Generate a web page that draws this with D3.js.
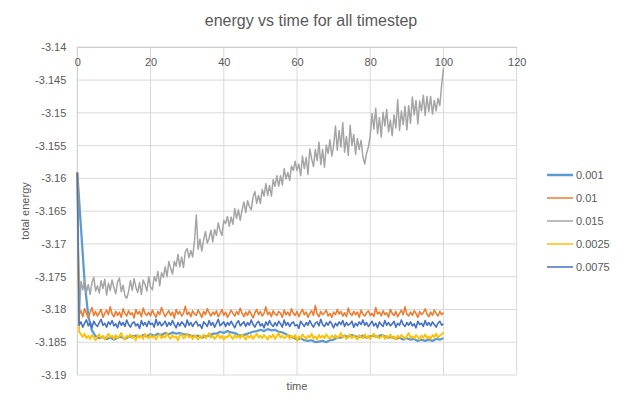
<!DOCTYPE html>
<html lang="en">
<head>
<meta charset="UTF-8">
<title>energy vs time for all timestep</title>
<style>
  body { margin: 0; background: #fff; }
  text { font-family: "Liberation Sans", Arial, sans-serif; fill: #595959; }
</style>
</head>
<body>
<script src="https://d3js.org/d3.v7.min.js"></script>
<script>
// series labels (timestep) and colours, in Excel's drawing order
const seriesNames = ["0.001", "0.01", "0.015", "0.0025", "0.0075"];
const seriesColors = ["#5B9BD5", "#ED7D31", "#A5A5A5", "#FFC000", "#4472C4"];

// sample times: 0.001 series read every 1, others every 0.5
const timeCoarse = d3.range(0, 101, 1);
const timeFine = d3.range(0, 100.5, 0.5);

const xTicks = [0, 20, 40, 60, 80, 100, 120];
const yTicks = [-3.14, -3.145, -3.15, -3.155, -3.16, -3.165, -3.17, -3.175, -3.18, -3.185, -3.19];
const yTickLabels = ["-3.14", "-3.145", "-3.15", "-3.155", "-3.16", "-3.165", "-3.17", "-3.175", "-3.18", "-3.185", "-3.19"];

const energy001 = [
  -3.1591, -3.1675, -3.1758, -3.1810, -3.1832,
  -3.1841, -3.1844, -3.1842, -3.1845, -3.1843, -3.1846, -3.1843, -3.1842, -3.1845, -3.1842, -3.1841,
  -3.1840, -3.1842, -3.1839, -3.1841, -3.1838, -3.1840, -3.1837, -3.1839, -3.1836, -3.1838, -3.1835, -3.1837, -3.1836, -3.1838, -3.1838,
  -3.1840, -3.1841, -3.1840, -3.1843, -3.1841, -3.1840, -3.1837, -3.1837, -3.1834, -3.1836, -3.1833, -3.1835, -3.1836, -3.1839, -3.1840,
  -3.1838, -3.1836, -3.1834, -3.1833, -3.1831, -3.1833, -3.1830, -3.1832, -3.1831, -3.1834, -3.1835, -3.1838, -3.1841,
  -3.1843, -3.1846, -3.1844, -3.1847, -3.1848, -3.1847, -3.1850, -3.1849, -3.1848, -3.1850, -3.1847, -3.1846, -3.1843, -3.1843,
  -3.1840, -3.1842, -3.1839, -3.1841, -3.1842, -3.1840, -3.1843, -3.1841, -3.1840, -3.1842, -3.1839, -3.1841, -3.1843, -3.1842, -3.1845, -3.1843, -3.1846, -3.1844,
  -3.1846, -3.1845, -3.1848, -3.1846, -3.1848, -3.1846, -3.1848, -3.1845, -3.1846, -3.1844
];

const energy01 = [
  -3.1591,
  -3.1808, -3.1802, -3.1811, -3.1799, -3.1806, -3.1813, -3.1804, -3.1797, -3.1809, -3.1803,
  -3.1810, -3.1805, -3.1800, -3.1812, -3.1806, -3.1801, -3.1808, -3.1796, -3.1807, -3.1811,
  -3.1803, -3.1809, -3.1804, -3.1812, -3.1799, -3.1806, -3.1810, -3.1802, -3.1808, -3.1805,
  -3.1813, -3.1800, -3.1807, -3.1803, -3.1811, -3.1798, -3.1806, -3.1809, -3.1804, -3.1810,
  -3.1801, -3.1807, -3.1812, -3.1803, -3.1808, -3.1797, -3.1805, -3.1811, -3.1806, -3.1802,
  -3.1809, -3.1804, -3.1813, -3.1800, -3.1807, -3.1803, -3.1810, -3.1806, -3.1795, -3.1808,
  -3.1804, -3.1811, -3.1802, -3.1807, -3.1809, -3.1801, -3.1806, -3.1812, -3.1803, -3.1808,
  -3.1799, -3.1805, -3.1810, -3.1804, -3.1808, -3.1802, -3.1811, -3.1806, -3.1800, -3.1809,
  -3.1804, -3.1812, -3.1807, -3.1801, -3.1806, -3.1810, -3.1803, -3.1808, -3.1798, -3.1806,
  -3.1811, -3.1804, -3.1809, -3.1802, -3.1807, -3.1813, -3.1805, -3.1800, -3.1808, -3.1803,
  -3.1810, -3.1806, -3.1796, -3.1808, -3.1804, -3.1811, -3.1802, -3.1807, -3.1809, -3.1803,
  -3.1806, -3.1812, -3.1801, -3.1808, -3.1804, -3.1810, -3.1799, -3.1806, -3.1809, -3.1803,
  -3.1811, -3.1805, -3.1800, -3.1808, -3.1804, -3.1812, -3.1806, -3.1802, -3.1809, -3.1794,
  -3.1807, -3.1811, -3.1803, -3.1808, -3.1805, -3.1801, -3.1810, -3.1806, -3.1812, -3.1804,
  -3.1808, -3.1800, -3.1807, -3.1803, -3.1810, -3.1805, -3.1811, -3.1798, -3.1806, -3.1809,
  -3.1803, -3.1808, -3.1804, -3.1812, -3.1801, -3.1807, -3.1810, -3.1805, -3.1802, -3.1809,
  -3.1806, -3.1811, -3.1797, -3.1807, -3.1804, -3.1810, -3.1802, -3.1808, -3.1805, -3.1812,
  -3.1800, -3.1806, -3.1809, -3.1803, -3.1811, -3.1806, -3.1801, -3.1808, -3.1796, -3.1807,
  -3.1810, -3.1804, -3.1809, -3.1802, -3.1806, -3.1812, -3.1803, -3.1808, -3.1805, -3.1799,
  -3.1807, -3.1811, -3.1804, -3.1809, -3.1801, -3.1806, -3.1810, -3.1803, -3.1808, -3.1805
];

const energy015 = [
  -3.1595, -3.1818,
  -3.1757, -3.1770, -3.1753, -3.1774, -3.1762, -3.1777, -3.1759, -3.1751, -3.1772, -3.1764,
  -3.1775, -3.1756, -3.1768, -3.1754, -3.1778, -3.1760, -3.1771, -3.1755, -3.1767, -3.1776,
  -3.1758, -3.1752, -3.1773, -3.1763, -3.1779, -3.1783, -3.1773, -3.1756, -3.1771, -3.1753,
  -3.1766, -3.1774, -3.1759, -3.1777, -3.1755, -3.1762, -3.1772, -3.1750, -3.1766, -3.1770,
  -3.1750, -3.1757, -3.1742, -3.1764, -3.1744, -3.1751, -3.1735, -3.1750, -3.1727, -3.1737,
  -3.1746, -3.1727, -3.1734, -3.1716, -3.1735, -3.1720, -3.1736, -3.1712, -3.1707, -3.1721,
  -3.1710, -3.1720, -3.1696, -3.1656, -3.1708, -3.1693, -3.1711, -3.1694, -3.1681, -3.1699,
  -3.1691, -3.1679, -3.1697, -3.1678, -3.1687, -3.1668, -3.1680, -3.1687, -3.1664, -3.1669,
  -3.1658, -3.1673, -3.1659, -3.1670, -3.1646, -3.1661, -3.1648, -3.1664, -3.1648, -3.1636,
  -3.1652, -3.1634, -3.1643, -3.1648, -3.1629, -3.1620, -3.1638, -3.1626, -3.1638, -3.1617,
  -3.1627, -3.1608, -3.1626, -3.1611, -3.1627, -3.1602, -3.1612, -3.1596, -3.1612, -3.1596,
  -3.1610, -3.1585, -3.1601, -3.1591, -3.1603, -3.1581, -3.1588, -3.1574, -3.1588, -3.1578,
  -3.1596, -3.1566, -3.1585, -3.1568, -3.1594, -3.1555, -3.1570, -3.1582, -3.1556, -3.1573,
  -3.1545, -3.1579, -3.1556, -3.1583, -3.1549, -3.1562, -3.1541, -3.1566, -3.1550, -3.1520,
  -3.1557, -3.1527, -3.1552, -3.1515, -3.1560, -3.1536, -3.1565, -3.1519, -3.1550, -3.1533,
  -3.1563, -3.1539, -3.1556, -3.1542, -3.1567, -3.1578, -3.1562, -3.1552, -3.1535, -3.1501,
  -3.1525, -3.1493, -3.1532, -3.1507, -3.1537, -3.1499, -3.1520, -3.1495, -3.1529, -3.1511,
  -3.1535, -3.1503, -3.1523, -3.1480, -3.1527, -3.1497, -3.1518, -3.1490, -3.1526, -3.1489,
  -3.1516, -3.1476, -3.1503, -3.1481, -3.1517, -3.1482, -3.1497, -3.1473, -3.1504, -3.1475,
  -3.1498, -3.1475, -3.1502, -3.1481, -3.1497, -3.1478, -3.1489, -3.1458, -3.1432
];

const energy0025 = [
  -3.1591,
  -3.1834, -3.1838, -3.1842, -3.1837, -3.1844, -3.1840, -3.1845, -3.1839, -3.1843, -3.1847,
  -3.1841, -3.1838, -3.1844, -3.1840, -3.1846, -3.1842, -3.1837, -3.1843, -3.1840, -3.1845,
  -3.1839, -3.1844, -3.1841, -3.1836, -3.1843, -3.1846, -3.1840, -3.1842, -3.1838, -3.1844,
  -3.1841, -3.1847, -3.1839, -3.1843, -3.1840, -3.1845, -3.1837, -3.1842, -3.1844, -3.1839,
  -3.1843, -3.1840, -3.1846, -3.1841, -3.1838, -3.1844, -3.1840, -3.1843, -3.1836, -3.1842,
  -3.1845, -3.1839, -3.1843, -3.1841, -3.1847, -3.1840, -3.1838, -3.1844, -3.1842, -3.1837,
  -3.1843, -3.1840, -3.1845, -3.1839, -3.1842, -3.1846, -3.1840, -3.1843, -3.1838, -3.1844,
  -3.1841, -3.1836, -3.1843, -3.1840, -3.1845, -3.1842, -3.1838, -3.1844, -3.1840, -3.1846,
  -3.1841, -3.1843, -3.1837, -3.1842, -3.1845, -3.1839, -3.1843, -3.1840, -3.1844, -3.1838,
  -3.1842, -3.1846, -3.1840, -3.1843, -3.1839, -3.1845, -3.1841, -3.1837, -3.1843, -3.1840,
  -3.1844, -3.1839, -3.1842, -3.1846, -3.1840, -3.1843, -3.1838, -3.1845, -3.1841, -3.1836,
  -3.1843, -3.1840, -3.1844, -3.1842, -3.1838, -3.1845, -3.1840, -3.1843, -3.1839, -3.1848,
  -3.1841, -3.1844, -3.1838, -3.1842, -3.1845, -3.1840, -3.1843, -3.1837, -3.1844, -3.1841,
  -3.1846, -3.1839, -3.1843, -3.1840, -3.1844, -3.1838, -3.1842, -3.1845, -3.1840, -3.1843,
  -3.1839, -3.1844, -3.1841, -3.1836, -3.1843, -3.1840, -3.1845, -3.1842, -3.1838, -3.1844,
  -3.1840, -3.1843, -3.1846, -3.1839, -3.1842, -3.1844, -3.1838, -3.1843, -3.1840, -3.1845,
  -3.1841, -3.1837, -3.1843, -3.1840, -3.1844, -3.1842, -3.1839, -3.1845, -3.1840, -3.1843,
  -3.1838, -3.1844, -3.1841, -3.1846, -3.1840, -3.1843, -3.1839, -3.1842, -3.1845, -3.1840,
  -3.1836, -3.1843, -3.1841, -3.1844, -3.1839, -3.1842, -3.1846, -3.1840, -3.1843, -3.1838,
  -3.1844, -3.1841, -3.1845, -3.1839, -3.1842, -3.1837, -3.1843, -3.1840, -3.1838, -3.1835
];

const energy0075 = [
  -3.1591,
  -3.1824, -3.1819, -3.1827, -3.1821, -3.1816, -3.1825, -3.1820, -3.1828, -3.1818, -3.1823,
  -3.1826, -3.1820, -3.1815, -3.1824, -3.1821, -3.1827, -3.1819, -3.1823, -3.1817, -3.1825,
  -3.1822, -3.1828, -3.1818, -3.1824, -3.1820, -3.1826, -3.1816, -3.1823, -3.1827, -3.1821,
  -3.1819, -3.1825, -3.1822, -3.1829, -3.1817, -3.1824, -3.1820, -3.1826, -3.1818, -3.1823,
  -3.1821, -3.1827, -3.1815, -3.1824, -3.1819, -3.1825, -3.1822, -3.1818, -3.1826, -3.1820,
  -3.1824, -3.1817, -3.1823, -3.1828, -3.1820, -3.1825, -3.1819, -3.1822, -3.1827, -3.1816,
  -3.1824, -3.1820, -3.1826, -3.1821, -3.1818, -3.1825, -3.1823, -3.1829, -3.1819, -3.1822,
  -3.1826, -3.1817, -3.1824, -3.1820, -3.1827, -3.1821, -3.1815, -3.1825, -3.1822, -3.1819,
  -3.1826, -3.1820, -3.1824, -3.1818, -3.1823, -3.1828, -3.1821, -3.1817, -3.1825, -3.1822,
  -3.1819, -3.1826, -3.1820, -3.1824, -3.1816, -3.1823, -3.1827, -3.1821, -3.1818, -3.1825,
  -3.1822, -3.1828, -3.1819, -3.1824, -3.1817, -3.1823, -3.1826, -3.1820, -3.1825, -3.1818,
  -3.1822, -3.1827, -3.1816, -3.1824, -3.1820, -3.1826, -3.1821, -3.1819, -3.1825, -3.1823,
  -3.1829, -3.1818, -3.1822, -3.1826, -3.1820, -3.1824, -3.1817, -3.1823, -3.1827, -3.1821,
  -3.1819, -3.1825, -3.1815, -3.1823, -3.1826, -3.1820, -3.1824, -3.1818, -3.1822, -3.1828,
  -3.1821, -3.1825, -3.1819, -3.1823, -3.1817, -3.1826, -3.1820, -3.1824, -3.1822, -3.1818,
  -3.1827, -3.1821, -3.1825, -3.1819, -3.1823, -3.1816, -3.1824, -3.1820, -3.1826, -3.1822,
  -3.1818, -3.1825, -3.1821, -3.1828, -3.1819, -3.1823, -3.1826, -3.1817, -3.1824, -3.1820,
  -3.1825, -3.1822, -3.1818, -3.1827, -3.1821, -3.1824, -3.1816, -3.1823, -3.1826, -3.1820,
  -3.1824, -3.1819, -3.1825, -3.1822, -3.1828, -3.1818, -3.1823, -3.1821, -3.1826, -3.1817,
  -3.1824, -3.1820, -3.1825, -3.1819, -3.1823, -3.1827, -3.1821, -3.1818, -3.1824, -3.1822
];

const seriesValues = [energy001, energy01, energy015, energy0025, energy0075];
const seriesTimes = [timeCoarse, timeFine, timeFine, timeFine, timeFine];
const seriesWidths = [2.25, 1.6, 1.5, 1.8, 1.6];

const width = 620, height = 399;
const plot = { left: 77.3, right: 516.7, top: 47.3, bottom: 375 };

const svg = d3.select("body").append("svg")
  .attr("width", width)
  .attr("height", height);

const x = d3.scaleLinear().domain([0, 120]).range([plot.left, plot.right]);
const y = d3.scaleLinear().domain([-3.19, -3.14]).range([plot.bottom, plot.top]);

// gridlines
svg.append("g").selectAll("line")
  .data(yTicks)
  .join("line")
  .attr("x1", plot.left).attr("x2", plot.right)
  .attr("y1", d => y(d)).attr("y2", d => y(d))
  .attr("stroke", "#D9D9D9").attr("stroke-width", 1);

svg.append("g").selectAll("line")
  .data(xTicks.slice(1))
  .join("line")
  .attr("x1", d => x(d)).attr("x2", d => x(d))
  .attr("y1", plot.top).attr("y2", plot.bottom)
  .attr("stroke", "#D9D9D9").attr("stroke-width", 1);

// axis lines (x axis crosses at the top, -3.14)
svg.append("line")
  .attr("x1", x(0)).attr("x2", x(0))
  .attr("y1", plot.top).attr("y2", plot.bottom)
  .attr("stroke", "#C8C8C8");
svg.append("line")
  .attr("x1", plot.left).attr("x2", plot.right)
  .attr("y1", y(-3.14)).attr("y2", y(-3.14))
  .attr("stroke", "#C8C8C8");

// tick labels via d3 axes
const yAxis = svg.append("g")
  .attr("transform", `translate(${plot.left},0)`)
  .call(d3.axisLeft(y).tickValues(yTicks).tickFormat((d, i) => yTickLabels[i]).tickSize(0).tickPadding(11));
yAxis.select(".domain").remove();

const xAxis = svg.append("g")
  .attr("transform", `translate(0,${plot.top})`)
  .call(d3.axisBottom(x).tickValues(xTicks).tickFormat(d3.format("d")).tickSize(0).tickPadding(11));
xAxis.select(".domain").remove();

svg.selectAll(".tick text")
  .attr("fill", "#595959")
  .style("font-family", "'Liberation Sans', Arial, sans-serif")
  .style("font-size", "11px");

// series lines
seriesValues.forEach((vals, s) => {
  const t = seriesTimes[s];
  const line = d3.line()
    .x((d, i) => x(t[i]))
    .y(d => y(d));
  svg.append("path")
    .datum(vals)
    .attr("fill", "none")
    .attr("stroke", seriesColors[s])
    .attr("stroke-width", seriesWidths[s])
    .attr("stroke-linejoin", "round")
    .attr("d", line);
});

// title and axis titles
svg.append("text")
  .attr("x", 311).attr("y", 26)
  .attr("text-anchor", "middle")
  .style("font-size", "16px")
  .text("energy vs time for all timestep");

svg.append("text")
  .attr("x", (plot.left + plot.right) / 2).attr("y", 390)
  .attr("text-anchor", "middle")
  .style("font-size", "11px")
  .text("time");

svg.append("text")
  .attr("transform", "translate(28.5,211) rotate(-90)")
  .attr("text-anchor", "middle")
  .style("font-size", "11px")
  .text("total energy");

// legend
const legend = svg.append("g");
const legendY = d3.scalePoint().domain(seriesNames).range([175, 267]);
seriesNames.forEach((name, s) => {
  const g = legend.append("g").attr("transform", `translate(0,${legendY(name)})`);
  g.append("line")
    .attr("x1", 547).attr("x2", 573)
    .attr("stroke", seriesColors[s])
    .attr("stroke-width", s === 0 ? 2.5 : 1.5);
  g.append("text")
    .attr("x", 576).attr("dy", "0.35em")
    .style("font-size", "11px")
    .text(name);
});
</script>
</body>
</html>
